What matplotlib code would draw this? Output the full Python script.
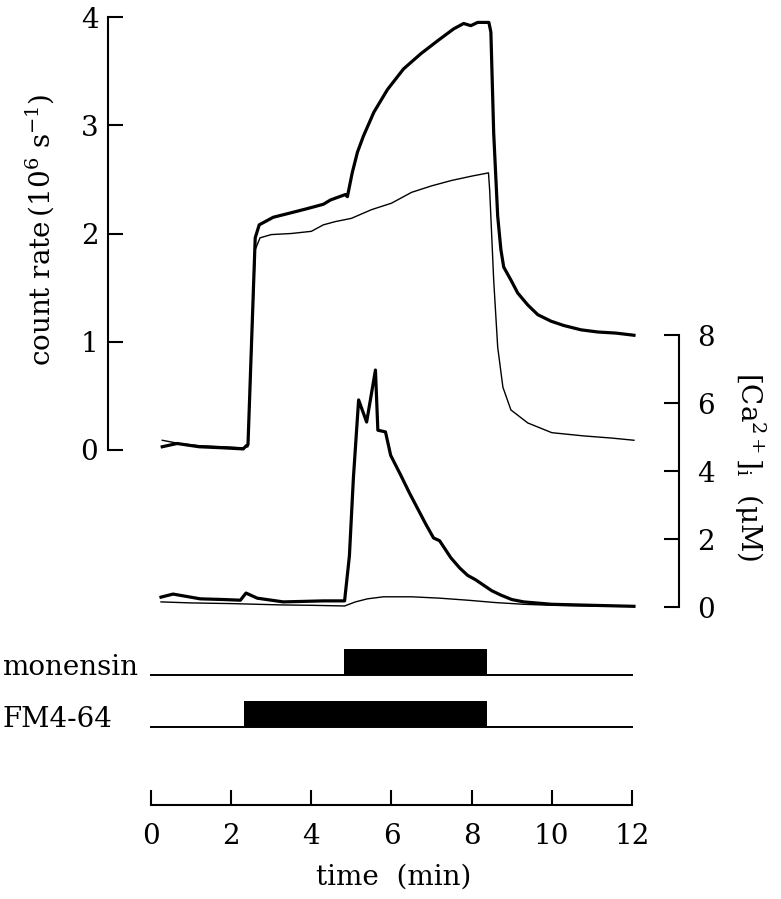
import matplotlib
matplotlib.use("Agg")
import matplotlib.pyplot as plt
from matplotlib.transforms import blended_transform_factory

# count rate traces (time in min, rate in 10^6 s^-1)
thick_count_t = [0.28, 0.65, 1.2, 1.8, 2.3, 2.38, 2.42, 2.6, 2.7, 3.05, 3.48, 3.9, 4.3, 4.48, 4.85, 4.9,
                 5.02, 5.15, 5.3, 5.56, 5.9, 6.3, 6.73, 7.15, 7.55, 7.8, 7.98, 8.15, 8.43, 8.48, 8.55,
                 8.65, 8.73, 8.8, 8.98, 9.15, 9.4, 9.65, 9.98, 10.3, 10.73, 11.15, 11.6, 12.05]
thick_count_v = [0.03, 0.06, 0.03, 0.02, 0.01, 0.04, 0.05, 1.96, 2.08, 2.15, 2.19, 2.23, 2.27, 2.31, 2.36, 2.34,
                 2.56, 2.75, 2.9, 3.12, 3.33, 3.52, 3.66, 3.78, 3.89, 3.94, 3.92, 3.95, 3.95, 3.86, 2.93,
                 2.16, 1.85, 1.69, 1.57, 1.45, 1.34, 1.25, 1.19, 1.15, 1.11, 1.09, 1.08, 1.06]

thin_count_t = [0.28, 0.7, 1.2, 1.8, 2.3, 2.42, 2.6, 2.72, 3.0, 3.5, 4.0, 4.3, 4.6, 5.0, 5.5, 6.0, 6.5,
                7.0, 7.5, 8.0, 8.42, 8.45, 8.55, 8.65, 8.78, 8.98, 9.4, 10.0, 10.8, 11.5, 12.05]
thin_count_v = [0.09, 0.06, 0.04, 0.03, 0.02, 0.03, 1.85, 1.96, 1.99, 2.0, 2.02, 2.08, 2.11, 2.14, 2.22, 2.28, 2.38,
                2.44, 2.49, 2.53, 2.56, 2.4, 1.57, 0.95, 0.58, 0.37, 0.25, 0.16, 0.13, 0.11, 0.09]

# [Ca2+]i traces (uM)
thick_ca_t = [0.25, 0.55, 1.23, 1.8, 2.23, 2.37, 2.65, 3.3, 4.3, 4.83, 4.95, 5.05, 5.18, 5.38, 5.6, 5.66,
              5.85, 5.98, 6.23, 6.45, 6.65, 6.85, 7.05, 7.2, 7.48, 7.7, 7.9, 8.1, 8.3, 8.5, 8.73, 9.0,
              9.3, 10.0, 11.0, 12.05]
thick_ca_c = [0.29, 0.38, 0.24, 0.22, 0.2, 0.41, 0.26, 0.15, 0.18, 0.18, 1.5, 3.8, 6.09, 5.44, 6.97, 5.2,
              5.15, 4.46, 3.88, 3.35, 2.9, 2.45, 2.03, 1.95, 1.45, 1.15, 0.93, 0.8, 0.64, 0.48, 0.35, 0.22,
              0.15, 0.08, 0.05, 0.02]

thin_ca_t = [0.25, 1.0, 2.0, 3.3, 4.0, 4.83, 5.1, 5.4, 5.8, 6.5, 7.2, 7.9, 8.6, 9.3, 10.0, 11.0, 12.05]
thin_ca_c = [0.15, 0.12, 0.1, 0.06, 0.05, 0.03, 0.15, 0.24, 0.3, 0.3, 0.26, 0.2, 0.13, 0.08, 0.05, 0.03, 0.02]

# application periods (min)
treatments = ["monensin", "FM4-64"]
treat_start = [4.82, 2.32]
treat_end = [8.38, 8.38]

time_ticks = [0, 2, 4, 6, 8, 10, 12]
count_ticks = [0, 1, 2, 3, 4]
ca_ticks = [0, 2, 4, 6, 8]


def px_x(px):
  return px / 781


def px_y(px):
  return (899 - px) / 899


def main() -> None:
  plt.rcParams["font.family"] = "DejaVu Serif"
  plt.rcParams["mathtext.fontset"] = "dejavuserif"
  plt.rcParams["font.size"] = 20

  fig = plt.figure(figsize=(7.81, 8.99), dpi=100)

  xlim = ((108 - 151) / 40.08, (679 - 151) / 40.08)

  # traces panel
  ax = fig.add_axes([px_x(108), px_y(615), px_x(679 - 108), (615 - 10) / 899])
  ax.set_xlim(*xlim)
  ax.set_ylim(-(615 - 450) / 108.25, (450 - 10) / 108.25)
  ax.plot(thin_count_t, thin_count_v, color="black", lw=1.0)
  ax.plot(thick_count_t, thick_count_v, color="black", lw=2.3)
  for s in ["top", "right", "bottom"]:
    ax.spines[s].set_visible(False)
  ax.spines["left"].set_bounds(0, 4)
  ax.spines["left"].set_linewidth(1.5)
  ax.set_xticks([])
  ax.set_yticks(count_ticks)
  ax.tick_params(axis="y", direction="in", length=11, width=1.5, pad=7)

  ax2 = ax.twinx()
  ax2.set_ylim(-(615 - 607) / 34.0, (607 - 10) / 34.0)
  ax2.plot(thin_ca_t, thin_ca_c, color="black", lw=1.0)
  ax2.plot(thick_ca_t, thick_ca_c, color="black", lw=2.3)
  for s in ["top", "left", "bottom"]:
    ax2.spines[s].set_visible(False)
  ax2.spines["right"].set_bounds(0, 8)
  ax2.spines["right"].set_linewidth(1.5)
  ax2.set_yticks(ca_ticks)
  ax2.tick_params(axis="y", direction="in", length=11, width=1.5, pad=13)

  fig.text(px_x(40), px_y(230), "count rate$\\,\\left(10^{6}\\ \\mathrm{s}^{-1}\\right)$",
           rotation=90, ha="center", va="center")
  fig.text(px_x(750), px_y(467), "$\\left[\\mathrm{Ca}^{2+}\\right]_{\\mathrm{i}}$  (\u03bcM)",
           rotation=-90, ha="center", va="center")

  # treatment bars and time axis
  axb = fig.add_axes([px_x(108), px_y(805), px_x(679 - 108), (805 - 640) / 899])
  axb.set_xlim(*xlim)
  axb.set_ylim(-1.5, (727 - 640) / 52)
  rows = [1, 0]
  trans = blended_transform_factory(fig.transFigure, axb.transData)
  for row, name, t0, t1 in zip(rows, treatments, treat_start, treat_end):
    axb.plot([-0.03, 12.03], [row, row], color="black", lw=1.4, solid_capstyle="butt")
    axb.broken_barh([(t0, t1 - t0)], (row, 0.5), facecolor="black", edgecolor="none")
    axb.text(px_x(2), row, name, transform=trans, ha="left", va="baseline")

  for s in ["top", "left", "right"]:
    axb.spines[s].set_visible(False)
  axb.spines["bottom"].set_bounds(0, 12)
  axb.spines["bottom"].set_linewidth(1.5)
  axb.set_yticks([])
  axb.set_xticks(time_ticks)
  axb.tick_params(axis="x", direction="in", length=11, width=1.5, pad=13)
  axb.set_xlabel("time  (min)", labelpad=10)

  fig.savefig("out.png", dpi=100)


main()
